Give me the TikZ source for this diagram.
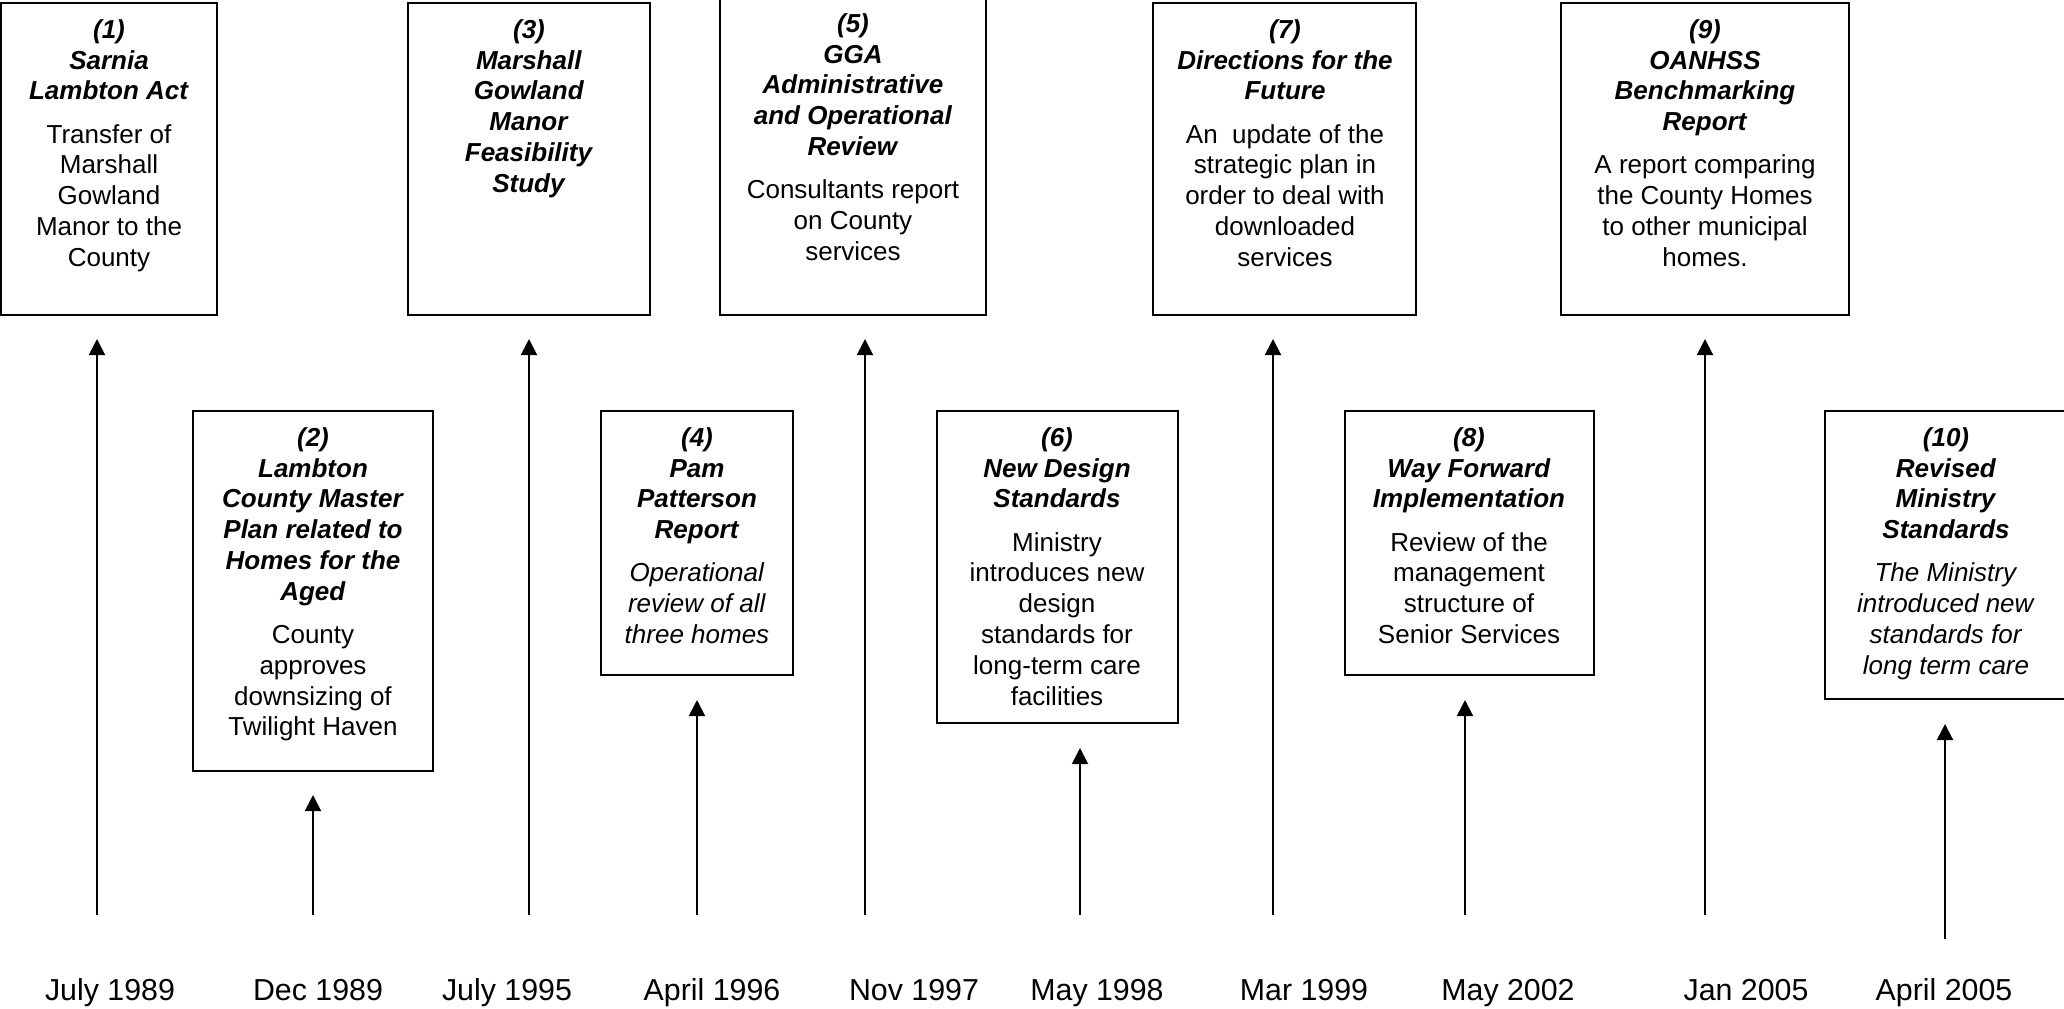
\documentclass[tikz,border=0pt]{standalone}
\usepackage{fontspec}
\setmainfont{Liberation Sans}
\usetikzlibrary{arrows.meta,fit}
\newcommand\evt[1]{\textbf{\textit{#1}}}
\begin{document}
\begin{tikzpicture}[x=0.4615pt,y=-0.4615pt,
  evbox/.style={draw, line width=0.75pt, inner sep=0pt},
  evtext/.style={align=center, inner sep=0pt, anchor=north, font=\fontsize{12}{14.2}\selectfont},
  datelbl/.style={anchor=base, inner sep=0pt, font=\fontsize{14}{16.5}\selectfont},
  tl/.style={line width=0.9pt, -{Triangle[length=7.4pt,width=7.4pt]}}]
\useasboundingbox (0,0) rectangle (2064,1008);
\clip (0,0) rectangle (2064,1008);

% boxes
\node[evbox, fit={(1,3) (217,315)}] (b1) {};
\node[evbox, fit={(193,411) (433,771)}] (b2) {};
\node[evbox, fit={(408,3) (650,315)}] (b3) {};
\node[evbox, fit={(601,411) (793,675)}] (b4) {};
\node[evbox, fit={(720,-4) (986,315)}] (b5) {};
\node[evbox, fit={(937,411) (1178,723)}] (b6) {};
\node[evbox, fit={(1153,3) (1416,315)}] (b7) {};
\node[evbox, fit={(1345,411) (1594,675)}] (b8) {};
\node[evbox, fit={(1561,3) (1849,315)}] (b9) {};
\node[evbox, fit={(1825,411) (2067,699)}] (b10) {};

% texts
\node[evtext] (t1) at (109,19) {\evt{(1)}\\\evt{Sarnia}\\\evt{Lambton Act}\\[5.8pt]Transfer of\\Marshall\\Gowland\\Manor to the\\County};
\node[evtext] (t2) at (313,427) {\evt{(2)}\\\evt{Lambton}\\\evt{County Master}\\\evt{Plan related to}\\\evt{Homes for the}\\\evt{Aged}\\[5.8pt]County\\approves\\downsizing of\\Twilight Haven};
\node[evtext] (t3) at (529,19) {\evt{(3)}\\\evt{Marshall}\\\evt{Gowland}\\\evt{Manor}\\\evt{Feasibility}\\\evt{Study}};
\node[evtext] (t4) at (697,427) {\evt{(4)}\\\evt{Pam}\\\evt{Patterson}\\\evt{Report}\\[5.8pt]\textit{Operational}\\\textit{review of all}\\\textit{three homes}};
\node[evtext] (t5) at (853,13) {\evt{(5)}\\\evt{GGA}\\\evt{Administrative}\\\evt{and Operational}\\\evt{Review}\\[5.8pt]Consultants report\\on County\\services};
\node[evtext] (t6) at (1057,427) {\evt{(6)}\\\evt{New Design}\\\evt{Standards}\\[5.8pt]Ministry\\introduces new\\design\\standards for\\long-term care\\facilities};
\node[evtext] (t7) at (1285,19) {\evt{(7)}\\\evt{Directions for the}\\\evt{Future}\\[5.8pt]An~ update of the\\strategic plan in\\order to deal with\\downloaded\\services};
\node[evtext] (t8) at (1469,427) {\evt{(8)}\\\evt{Way Forward}\\\evt{Implementation}\\[5.8pt]Review of the\\management\\structure of\\Senior Services};
\node[evtext] (t9) at (1705,19) {\evt{(9)}\\\evt{OANHSS}\\\evt{Benchmarking}\\\evt{Report}\\[5.8pt]A report comparing\\the County Homes\\to other municipal\\homes.};
\node[evtext] (t10) at (1946,427) {\evt{(10)}\\\evt{Revised}\\\evt{Ministry}\\\evt{Standards}\\[5.8pt]\textit{The Ministry}\\\textit{introduced new}\\\textit{standards for}\\\textit{long term care}};

% arrows
\coordinate (s1) at (97,915);   \coordinate (e1) at (97,339);
\coordinate (s2) at (313,915);  \coordinate (e2) at (313,795);
\coordinate (s3) at (529,915);  \coordinate (e3) at (529,339);
\coordinate (s4) at (697,915);  \coordinate (e4) at (697,700);
\coordinate (s5) at (865,915);  \coordinate (e5) at (865,339);
\coordinate (s6) at (1080,915); \coordinate (e6) at (1080,748);
\coordinate (s7) at (1273,915); \coordinate (e7) at (1273,339);
\coordinate (s8) at (1465,915); \coordinate (e8) at (1465,700);
\coordinate (s9) at (1705,915); \coordinate (e9) at (1705,339);
\coordinate (s10) at (1945,939); \coordinate (e10) at (1945,724);
\foreach \i in {1,...,10} {\draw[tl] (s\i) -- (e\i);}

% dates
\node[datelbl] (d1) at (110,1000) {July 1989};
\node[datelbl] (d2) at (318,1000) {Dec 1989};
\node[datelbl] (d3) at (507,1000) {July 1995};
\node[datelbl] (d4) at (712,1000) {April 1996};
\node[datelbl] (d5) at (914,1000) {Nov 1997};
\node[datelbl] (d6) at (1097,1000) {May 1998};
\node[datelbl] (d7) at (1304,1000) {Mar 1999};
\node[datelbl] (d8) at (1508,1000) {May 2002};
\node[datelbl] (d9) at (1746,1000) {Jan 2005};
\node[datelbl] (d10) at (1944,1000) {April 2005};
\end{tikzpicture}
\end{document}
